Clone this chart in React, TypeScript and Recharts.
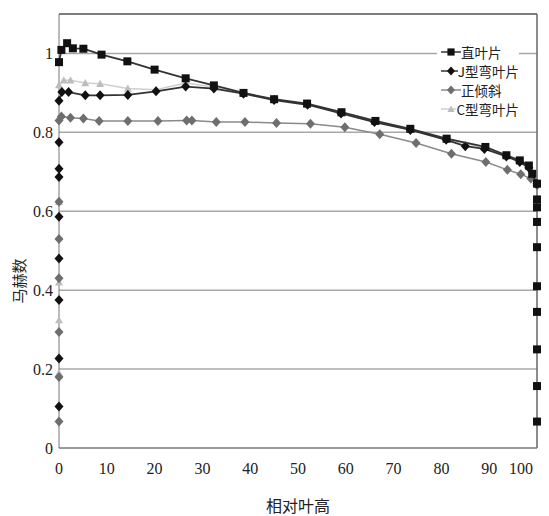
import React from 'react';
import {
  ScatterChart,
  Scatter,
  XAxis,
  YAxis,
  CartesianGrid,
  ReferenceLine,
  Legend,
} from 'recharts';

// 相对叶高 (x) and 马赫数 (y) per blade type.
// Connected profile points first, then the loose points stacked on the 0 / 100 edges.
const straightX = [0, 0.5, 1.7, 2.9, 5.1, 8.9, 14.3, 20, 26.5, 32.4, 38.6, 45, 51.9, 59.1, 66.2, 73.5, 81.1, 89.2, 93.6, 96.4, 98.3, 99, 100];
const straightY = [0.978, 1.009, 1.026, 1.013, 1.012, 0.997, 0.98, 0.959, 0.937, 0.919, 0.9, 0.884, 0.873, 0.851, 0.829, 0.809, 0.784, 0.763, 0.742, 0.729, 0.716, 0.695, 0.67];
const straightEdgeX = [100, 100, 100, 100, 100, 100, 100, 100, 100];
const straightEdgeY = [0.63, 0.61, 0.573, 0.509, 0.41, 0.345, 0.25, 0.157, 0.067];

const jBladeX = [0, 0.6, 2, 5.5, 8.6, 14.4, 20.3, 26.5, 32.4, 38.6, 45, 52, 59, 66, 73.5, 81, 85, 89, 93.6, 96.4, 98.3, 100];
const jBladeY = [0.88, 0.902, 0.902, 0.894, 0.894, 0.895, 0.904, 0.916, 0.911, 0.898, 0.882, 0.87, 0.848, 0.826, 0.806, 0.781, 0.765, 0.758, 0.739, 0.725, 0.71, 0.67];
const jEdgeX = [0, 0, 0, 0, 0, 0, 0, 0];
const jEdgeY = [0.105, 0.227, 0.375, 0.48, 0.586, 0.687, 0.708, 0.775];

const leanX = [0, 0.5, 2.4, 5.1, 8.4, 14.4, 20.7, 26.7, 27.8, 32.9, 38.9, 45.5, 52.6, 59.8, 67.1, 74.7, 82.1, 89.3, 93.8, 96.6, 98.7, 100];
const leanY = [0.83, 0.84, 0.837, 0.835, 0.829, 0.829, 0.829, 0.83, 0.83, 0.826, 0.826, 0.824, 0.822, 0.813, 0.795, 0.773, 0.746, 0.725, 0.705, 0.694, 0.683, 0.666];
const leanEdgeX = [0, 0, 0, 0, 0, 0];
const leanEdgeY = [0.067, 0.18, 0.294, 0.43, 0.53, 0.624];

const cBladeX = [0, 1, 2.4, 5.5, 8.6, 14.4, 20.3, 26.5, 32.4, 38.6, 45, 52, 59, 66, 73.5, 81, 89, 93.6, 96.4, 98.3, 100];
const cBladeY = [0.92, 0.932, 0.932, 0.925, 0.923, 0.911, 0.908, 0.925, 0.915, 0.9, 0.883, 0.871, 0.849, 0.827, 0.807, 0.782, 0.761, 0.741, 0.727, 0.713, 0.67];
const cEdgeX = [0, 0, 0, 0];
const cEdgeY = [0.19, 0.324, 0.42, 0.624];

const xTicks = [0, 10, 20, 30, 40, 50, 60, 70, 80, 90, 100];
const yTicks = [0, 0.2, 0.4, 0.6, 0.8, 1];

const toPoints = (xs: number[], ys: number[]) => xs.map((x, i) => ({ x, y: ys[i] }));

const serif = '"Liberation Serif", "DejaVu Serif", serif';
const cjk = '"Noto Sans CJK SC", sans-serif';

type Mark = 'square' | 'diamond' | 'triangle';

function marker(kind: Mark, cx: number, cy: number, fill: string, s = 1) {
  if (kind === 'square') {
    return <rect x={cx - 4 * s} y={cy - 4 * s} width={8 * s} height={8 * s} fill={fill} />;
  }
  if (kind === 'diamond') {
    const w = 4.5 * s;
    const h = 5 * s;
    return <polygon points={`${cx},${cy - h} ${cx + w},${cy} ${cx},${cy + h} ${cx - w},${cy}`} fill={fill} />;
  }
  const t = 4 * s;
  return <polygon points={`${cx},${cy - t} ${cx + t},${cy + t * 0.8} ${cx - t},${cy + t * 0.8}`} fill={fill} />;
}

const shapeOf = (kind: Mark, fill: string) => (props: any) => {
  const { cx, cy } = props;
  if (cx == null || cy == null) return <g />;
  return marker(kind, cx, cy, fill);
};

const series = [
  { name: '直叶片', kind: 'square' as Mark, fill: '#111', line: '#333', width: 1.8, xs: straightX, ys: straightY, ex: straightEdgeX, ey: straightEdgeY },
  { name: 'J型弯叶片', kind: 'diamond' as Mark, fill: '#111', line: '#333', width: 1.8, xs: jBladeX, ys: jBladeY, ex: jEdgeX, ey: jEdgeY },
  { name: '正倾斜', kind: 'diamond' as Mark, fill: '#6e6e6e', line: '#8a8a8a', width: 1.5, xs: leanX, ys: leanY, ex: leanEdgeX, ey: leanEdgeY },
  { name: 'C型弯叶片', kind: 'triangle' as Mark, fill: '#bdbdbd', line: '#cfcfcf', width: 1.5, xs: cBladeX, ys: cBladeY, ex: cEdgeX, ey: cEdgeY },
];

// light series underneath, 直叶片 on top
const drawOrder = [3, 2, 1, 0];

function LegendBox() {
  return (
    <div style={{ background: '#fff', width: 78, paddingTop: 2, paddingLeft: 4 }}>
      {series.map((s) => (
        <div key={s.name} style={{ display: 'flex', alignItems: 'center', height: 19, whiteSpace: 'nowrap' }}>
          <svg width={20} height={12}>
            <line x1={0} y1={6} x2={20} y2={6} stroke={s.line} strokeWidth={1.5} />
            {marker(s.kind, 10, 6, s.fill, 0.9)}
          </svg>
          <span style={{ fontFamily: cjk, fontSize: 13.5, color: '#222' }}>{s.name}</span>
        </div>
      ))}
    </div>
  );
}

// Excel pulls the last label inward so it stays inside the chart
function XTick(props: any) {
  const { x, y, payload } = props;
  const shift = payload.value === 100 ? -8 : 0;
  return (
    <text x={x + shift} y={y} dy="0.71em" textAnchor="middle" fill="#222" style={{ fontSize: 16, fontFamily: serif }}>
      {payload.value}
    </text>
  );
}

export default function App() {
  return (
    <ScatterChart width={533} height={508} margin={{ top: 6, right: 4, bottom: 0, left: 0 }}>
      <CartesianGrid vertical={false} stroke="#a8a8a8" strokeWidth={1.5} />
      <XAxis
        type="number"
        dataKey="x"
        domain={[0, 100]}
        ticks={xTicks}
        height={68}
        stroke="#777"
        tickLine={false}
        tickSize={4}
        tickMargin={11}
        tick={<XTick />}
        label={{
          value: '相对叶高',
          position: 'insideBottom',
          offset: 4,
          style: { fontSize: 16, fill: '#222', fontFamily: cjk },
        }}
      />
      <YAxis
        type="number"
        dataKey="y"
        domain={[0, 1.1]}
        ticks={yTicks}
        width={51}
        stroke="#777"
        tickLine={false}
        tickSize={2}
        tickMargin={4}
        tick={{ fontSize: 16, fill: '#222', fontFamily: serif }}
        label={{
          content: () => (
            <text
              x={10}
              y={273}
              transform="rotate(-90 10 273)"
              textAnchor="middle"
              dominantBaseline="central"
              style={{ fontSize: 15, fill: '#222', fontFamily: cjk }}
            >
              马赫数
            </text>
          ),
        }}
      />
      <ReferenceLine y={1.1} stroke="#666" strokeWidth={1.5} />
      <ReferenceLine x={100} stroke="#666" strokeWidth={1.5} />
      <Legend
        layout="vertical"
        align="center"
        verticalAlign="middle"
        content={() => <LegendBox />}
        wrapperStyle={{ left: 429, top: 32, width: 82 }}
      />
      {drawOrder.map((i) => {
        const s = series[i];
        return (
          <Scatter
            key={`${s.name}-edge`}
            name={`${s.name}-edge`}
            data={toPoints(s.ex, s.ey)}
            shape={shapeOf(s.kind, s.fill)}
            isAnimationActive={false}
          />
        );
      })}
      {drawOrder.map((i) => {
        const s = series[i];
        return (
          <Scatter
            key={s.name}
            name={s.name}
            data={toPoints(s.xs, s.ys)}
            line={{ stroke: s.line, strokeWidth: s.width }}
            shape={shapeOf(s.kind, s.fill)}
            isAnimationActive={false}
          />
        );
      })}
    </ScatterChart>
  );
}
